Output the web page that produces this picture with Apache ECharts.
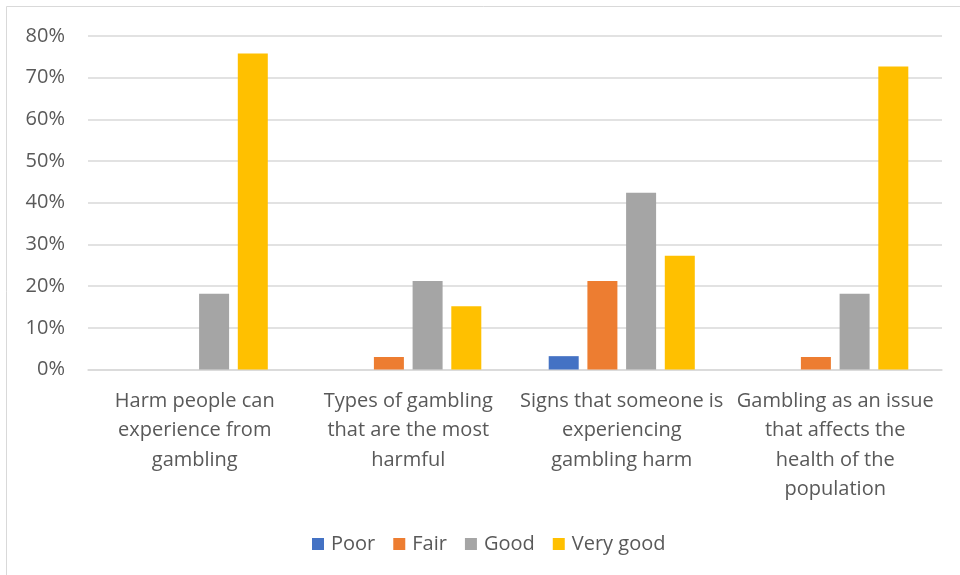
<!DOCTYPE html>
<html>
<head>
<meta charset="utf-8">
<script src="https://cdn.jsdelivr.net/npm/echarts@6/dist/echarts.min.js"></script>
<style>
  html, body { margin: 0; padding: 0; background: #fff; }
  #chart { width: 960px; height: 575px; }
</style>
</head>
<body>
<div id="chart"></div>
<script>
// Topic labels (line breaks as shown under each group)
var categories = [
  'Harm people can\nexperience from\ngambling',
  'Types of gambling\nthat are the most\nharmful',
  'Signs that someone is\nexperiencing\ngambling harm',
  'Gambling as an issue\nthat affects the\nhealth of the\npopulation'
];

// Share of respondents per rating (%)
var poor     = [0, 0, 3.2, 0];
var fair     = [0, 3.0, 21.2, 3.0];
var good     = [18.2, 21.2, 42.4, 18.2];
var veryGood = [75.8, 15.2, 27.3, 72.7];

var seriesNames = ['Poor', 'Fair', 'Good', 'Very good'];
var seriesColors = ['#4472C4', '#ED7D31', '#A5A5A5', '#FFC000'];
var seriesData = [poor, fair, good, veryGood];

var FONT = 'Open Sans';
var TEXT = '#595959';

var chart = echarts.init(document.getElementById('chart'), null, { renderer: 'canvas' });

chart.setOption({
  animation: false,
  backgroundColor: '#fff',
  textStyle: { fontFamily: FONT },
  graphic: [{
    type: 'rect',
    shape: { x: 6.5, y: 6.5, width: 980, height: 600 },
    style: { fill: 'none', stroke: '#d9d9d9', lineWidth: 1 },
    silent: true
  }],
  grid: { left: 88, right: 18, top: 36, bottom: 205.5, containLabel: false },
  legend: {
    left: 307,
    top: 529,
    itemWidth: 12,
    itemHeight: 12,
    itemGap: 18,
    icon: 'rect',
    textStyle: { fontFamily: FONT, fontSize: 20, color: TEXT, padding: [0, 0, 0, 2] },
    data: seriesNames
  },
  xAxis: {
    type: 'category',
    data: categories,
    axisLine: { show: true, lineStyle: { color: '#d9d9d9', width: 1.5 } },
    axisTick: { show: false },
    axisLabel: {
      interval: 0,
      margin: 17,
      fontFamily: FONT,
      fontSize: 20,
      lineHeight: 29.5,
      color: TEXT,
      align: 'center'
    }
  },
  yAxis: {
    type: 'value',
    min: 0,
    max: 80,
    interval: 10,
    axisLine: { show: false },
    axisTick: { show: false },
    splitLine: { lineStyle: { color: '#d9d9d9', width: 1.5 } },
    axisLabel: {
      margin: 23,
      fontFamily: FONT,
      fontSize: 20,
      color: TEXT,
      formatter: function (v) { return v + '%'; }
    }
  },
  series: seriesNames.map(function (name, i) {
    return {
      name: name,
      type: 'bar',
      data: seriesData[i],
      barWidth: 30,
      barGap: '29%',
      itemStyle: { color: seriesColors[i] }
    };
  })
});
</script>
</body>
</html>
